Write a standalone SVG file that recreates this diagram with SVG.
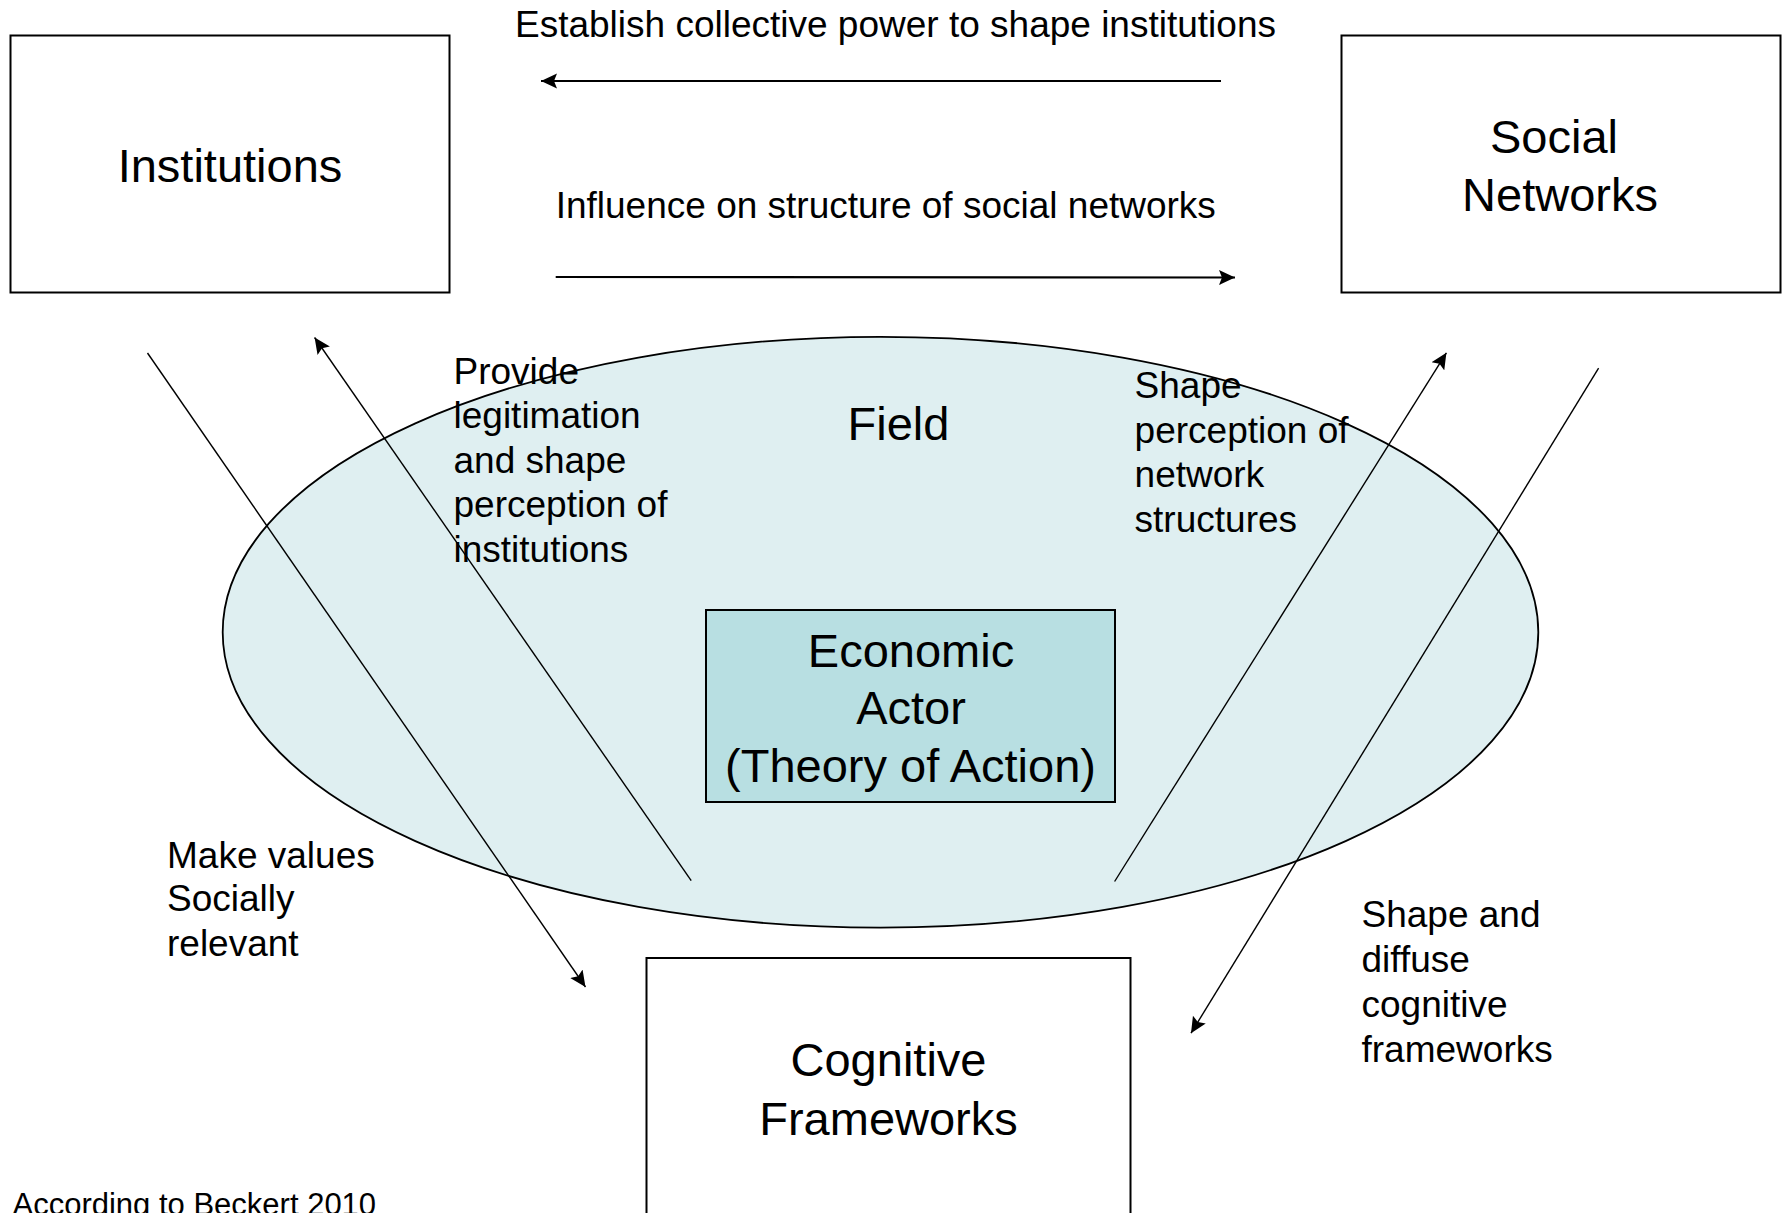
<svg xmlns="http://www.w3.org/2000/svg" width="1785" height="1213" viewBox="0 0 1785 1213">
  <style>
    .box { fill: #ffffff; stroke: #000000; stroke-width: 2; }
    .lbl { font-family: "Liberation Sans", Arial, sans-serif; fill: #000000; }
    .big { font-size: 47px; }
    .small { font-size: 37px; }
    .note { font-size: 31px; }
    .mid { text-anchor: middle; }
    .conn { fill: none; stroke: #000000; stroke-width: 1.4; }
    .hconn { fill: none; stroke: #000000; stroke-width: 2.2; }
  </style>
  <defs>
    <marker id="arrow" markerUnits="userSpaceOnUse" markerWidth="18" markerHeight="16" refX="16" refY="8" orient="auto">
      <path d="M0,0.5 L16,8 L0,15.5 L3,8 z" fill="#000000"/>
    </marker>
  </defs>
  <rect width="1785" height="1213" fill="#ffffff"/>

  <g id="field">
    <ellipse cx="880.5" cy="632.2" rx="657.8" ry="295.4" fill="#DFEFF1" stroke="#000000" stroke-width="1.8"/>
    <text class="lbl big mid" x="898.5" y="440">Field</text>
  </g>

  <g id="institutions">
    <rect class="box" x="10.5" y="35.5" width="439" height="257"/>
    <text class="lbl big mid" x="230" y="182">Institutions</text>
  </g>

  <g id="social-networks">
    <rect class="box" x="1341.5" y="35.5" width="439" height="257"/>
    <text class="lbl big mid" x="1554" y="153">Social</text>
    <text class="lbl big mid" x="1560" y="210.5">Networks</text>
  </g>

  <g id="economic-actor">
    <rect x="706" y="610" width="409" height="192" fill="#B8DFE2" stroke="#000000" stroke-width="2"/>
    <text class="lbl big mid" x="911" y="666.5">Economic</text>
    <text class="lbl big mid" x="911" y="723.5">Actor</text>
    <text class="lbl big mid" x="910.5" y="781.5">(Theory of Action)</text>
  </g>

  <g id="cognitive-frameworks">
    <rect class="box" x="646.5" y="958" width="484" height="300"/>
    <text class="lbl big mid" x="888.5" y="1076">Cognitive</text>
    <text class="lbl big mid" x="888.5" y="1134.5">Frameworks</text>
  </g>

  <g id="connectors">
    <line class="hconn" x1="1221" y1="81" x2="541" y2="81" marker-end="url(#arrow)"/>
    <line class="hconn" x1="555.7" y1="277" x2="1235" y2="277.5" marker-end="url(#arrow)"/>
    <line class="conn" x1="147.5" y1="353" x2="585.5" y2="987" marker-end="url(#arrow)"/>
    <line class="conn" x1="691.2" y1="880.7" x2="314.6" y2="337.5" marker-end="url(#arrow)"/>
    <line class="conn" x1="1114.6" y1="881.5" x2="1446.4" y2="352.8" marker-end="url(#arrow)"/>
    <line class="conn" x1="1598.6" y1="368.2" x2="1191" y2="1033.2" marker-end="url(#arrow)"/>
  </g>

  <g id="labels">
    <text class="lbl small" x="515" y="36.5">Establish collective power to shape institutions</text>
    <text class="lbl small" x="555.7" y="218">Influence on structure of social networks</text>

    <text class="lbl small" x="453.5" y="383.5">Provide</text>
    <text class="lbl small" x="453.5" y="428">legitimation</text>
    <text class="lbl small" x="453.5" y="472.5">and shape</text>
    <text class="lbl small" x="453.5" y="517">perception of</text>
    <text class="lbl small" x="453.5" y="561.5">institutions</text>

    <text class="lbl small" x="1134.6" y="398">Shape</text>
    <text class="lbl small" x="1134.6" y="442.5">perception of</text>
    <text class="lbl small" x="1134.6" y="487">network</text>
    <text class="lbl small" x="1134.6" y="531.5">structures</text>

    <text class="lbl small" x="167" y="867.5">Make values</text>
    <text class="lbl small" x="167" y="911">Socially</text>
    <text class="lbl small" x="167" y="955.5">relevant</text>

    <text class="lbl small" x="1361.5" y="926.5">Shape and</text>
    <text class="lbl small" x="1361.5" y="971.5">diffuse</text>
    <text class="lbl small" x="1361.5" y="1016.5">cognitive</text>
    <text class="lbl small" x="1361.5" y="1061.5">frameworks</text>

    <text class="lbl note" x="12.5" y="1215">According to Beckert 2010</text>
  </g>
</svg>
